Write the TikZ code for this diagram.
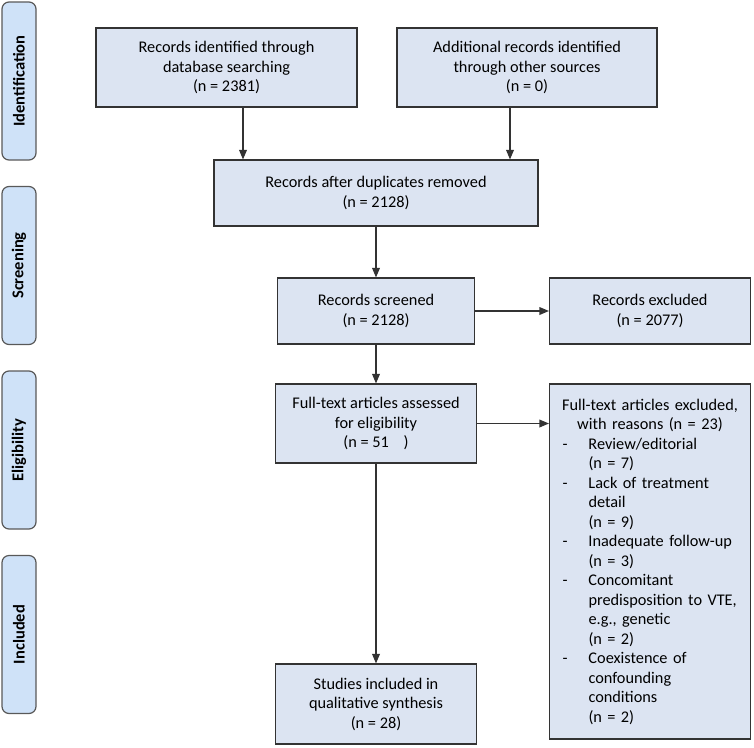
\documentclass[tikz,border=0pt]{standalone}
\usepackage{fontspec}
\setmainfont{Carlito}
\usepackage{tikz}
\usetikzlibrary{shapes,arrows}
\usetikzlibrary{positioning}
\definecolor{boxfill}{HTML}{DCE4F2}
\definecolor{stagefill}{HTML}{CFE2F8}
\definecolor{boxline}{HTML}{333333}
\tikzset{box/.style={draw=boxline, fill=boxfill, line width=1.2pt, align=center,
    font=\fontsize{16.3}{19.5}\selectfont, inner sep=2pt},
stage/.style={draw=gray!70!black, fill=stagefill, rounded corners=7pt, line width=1.2pt,
    minimum width=158pt, minimum height=34pt, rotate=90, inner sep=0pt,
    font=\bfseries\fontsize{16.5}{19}\selectfont},
flow/.style={->, >=triangle 45, every edge/.append style={draw=boxline, line width=1.2pt}}
}

\begin{document}
\begin{tikzpicture}[x=1pt, y=-1pt, node distance=184.5pt, on grid]
        \useasboundingbox (0,0) rectangle (754,747);

        % phases down the left side
        \node[stage] (ident)                      at (19,81) {Identification};
        \node[stage] (screen) [below=of ident]    {Screening};
        \node[stage] (elig)   [below=of screen]   {Eligibility};
        \node[stage] (inclp)  [below=of elig]     {Included};

        \node[box, minimum width=261pt, minimum height=79pt] (db) at (226.5,67.5)
              {Records identified through\\database searching\\(n = 2381)};
        \node[box, minimum width=260pt, minimum height=79pt] (other) [right=300.5pt of db]
              {Additional records identified\\through other sources\\(n = 0)};
        \node[box, minimum width=324pt, minimum height=66pt] (dup) at (376,193)
              {Records after duplicates removed\\(n = 2128)};
        \node[box, minimum width=197pt, minimum height=66pt] (scr) [below=118pt of dup]
              {Records screened\\(n = 2128)};
        \node[box, minimum width=201pt, minimum height=66pt] (excl) [right=274pt of scr]
              {Records excluded\\(n = 2077)};
        \node[box, minimum width=201pt, minimum height=79pt] (full) [below=112.5pt of scr]
              {Full-text articles assessed\\for eligibility\\(n = 51 \ \ \ )};
        \node[box, minimum width=201pt, minimum height=80pt] (incl) [below=280.5pt of full]
              {Studies included in\\qualitative synthesis\\(n = 28)};
        \node[box, minimum width=201pt, minimum height=355pt, anchor=north,
              text width=187pt, align=left] (fexcl) at (full.north -| excl)
              {\makebox[187pt]{Full-text articles excluded,}\\
               \makebox[187pt]{with reasons (n = 23)}\\
               \makebox[32pt][l]{\hspace{6pt}-}Review/editorial\\
               \hspace*{32pt}(n = 7)\\
               \makebox[32pt][l]{\hspace{6pt}-}Lack of treatment\\
               \hspace*{32pt}detail\\
               \hspace*{32pt}(n = 9)\\
               \makebox[32pt][l]{\hspace{6pt}-}Inadequate follow-up\\
               \hspace*{32pt}(n = 3)\\
               \makebox[32pt][l]{\hspace{6pt}-}Concomitant\\
               \hspace*{32pt}predisposition to VTE,\\
               \hspace*{32pt}e.g., genetic\\
               \hspace*{32pt}(n = 2)\\
               \makebox[32pt][l]{\hspace{6pt}-}Coexistence of\\
               \hspace*{32pt}confounding\\
               \hspace*{32pt}conditions\\
               \hspace*{32pt}(n = 2)};

        \path[flow] ([xshift=16.5pt]db.south) edge ([xshift=16.5pt]db.south |- dup.north)
                    ([xshift=-17pt]other.south) edge ([xshift=-17pt]other.south |- dup.north)
                    (dup)  edge (scr)
                    (scr)  edge (excl)
                    (scr)  edge (full)
                    (full) edge (full -| fexcl.west)
                    (full) edge (incl);
\end{tikzpicture}
\end{document}
